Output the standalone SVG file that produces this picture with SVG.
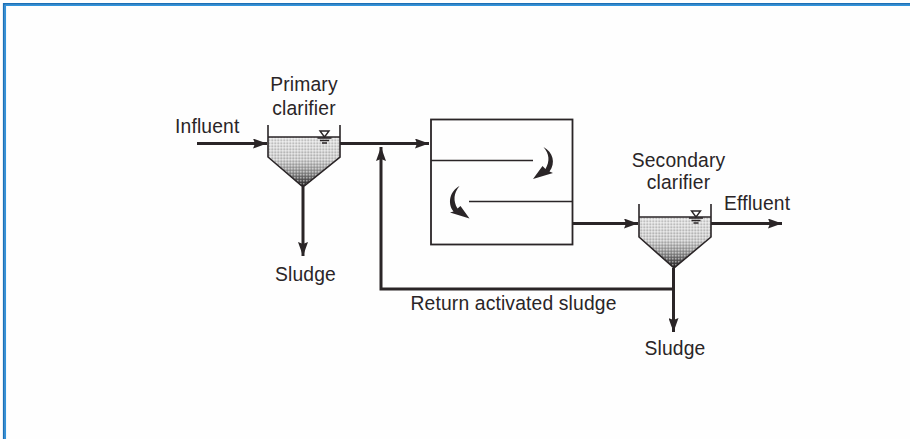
<svg xmlns="http://www.w3.org/2000/svg" width="910" height="439" viewBox="0 0 910 439">
<style>
.t{font-family:"Liberation Sans",Arial,sans-serif;font-size:19.300px;letter-spacing:.15px;fill:#2a2527}
.c{stroke:#2a2527;fill:none}
.flow{stroke-width:3}
.thin{stroke-width:1.7}
.tank{fill:url(#shade);stroke:none}
.dots{fill:url(#dither);stroke:none}
.wall{stroke:#2a2527;stroke-width:1.6;fill:none}
.head{fill:#2a2527;stroke:none}
</style>
<defs>
<linearGradient id="shade" x1="0" y1="0" x2="0" y2="1">
<stop offset="0" stop-color="#e2e2e2"/>
<stop offset="0.45" stop-color="#cfcfcf"/>
<stop offset="0.72" stop-color="#909090"/>
<stop offset="1" stop-color="#1f1d1f"/>
</linearGradient>
<pattern id="dither" width="3" height="3" patternUnits="userSpaceOnUse">
<rect x="0" y="0" width="1.500" height="1.500" fill="#fff" fill-opacity=".45"/>
<rect x="1.500" y="1.500" width="1.500" height="1.500" fill="#000" fill-opacity=".14"/>
</pattern>
<marker id="ah" markerUnits="userSpaceOnUse" markerWidth="16" markerHeight="10" refX="14" refY="5" orient="auto">
<path d="M0 0L14 5L0 10L2 5Z" fill="#2a2527"/>
</marker>
<symbol id="water" overflow="visible">
<path d="M-4.500 0H4.500L0 6Z" fill="none" stroke="#2a2527" stroke-width="1.400"/>
<path d="M-7 7H7M-4.500 9.500H4.500M-2.500 12H2.500" stroke="#2a2527" stroke-width="1.400" fill="none"/>
</symbol>
</defs>
<rect width="910" height="439" fill="#fefefe"/>
<g id="frame">
<path d="M5.300 439V5.300H910" fill="none" stroke="#2f94de" stroke-width="1.500"/>
<path d="M3.800 439V3.800H910" fill="none" stroke="#1a70b8" stroke-width="1.800"/>
</g>
<g id="primary-clarifier">
<path class="tank" d="M268 137H340V157L303 187L268 157Z"/>
<path class="dots" d="M268 137H340V157L303 187L268 157Z"/>
<path class="wall" d="M268 125V157L303 187L340 157V125M268 137H340"/>
<use href="#water" x="324.500" y="131"/>
<text class="t" x="304" y="91" text-anchor="middle">Primary</text>
<text class="t" x="304" y="115" text-anchor="middle">clarifier</text>
</g>
<g id="influent"><text class="t" x="175" y="132.500">Influent</text></g>
<g id="aeration-tank">
<rect x="431" y="119.500" width="141.500" height="125" fill="none" stroke="#2a2527" stroke-width="1.800"/>
<path class="c thin" d="M431 160.500H533M469 201.500H572"/>
<path d="M543.500 147C553 152 556 163 549.500 171.500L553 173L533 179L542.500 166L545.500 169C550 161 549.500 154 543.500 147Z" class="head"/>
<path d="M459.500 186C450 191 447 203 453.500 211.500L450 212.500L469.500 218.500L460.500 206L457.500 208.500C453 201 453.500 193 459.500 186Z" class="head"/>
</g>
<g id="secondary-clarifier">
<path class="tank" d="M639 217H711V237L674 268L639 237Z"/>
<path class="dots" d="M639 217H711V237L674 268L639 237Z"/>
<path class="wall" d="M639 204V237L674 268L711 237V204M639 217H711"/>
<use href="#water" x="696" y="211"/>
<text class="t" x="678.500" y="167" text-anchor="middle">Secondary</text>
<text class="t" x="678.500" y="189" text-anchor="middle">clarifier</text>
</g>
<g id="effluent"><text class="t" x="724" y="209.500">Effluent</text></g>
<g id="sludge-1"><text class="t" x="305.500" y="281" text-anchor="middle">Sludge</text></g>
<g id="sludge-2"><text class="t" x="675" y="355" text-anchor="middle">Sludge</text></g>
<g id="return-label"><text class="t" x="513.500" y="310" text-anchor="middle">Return activated sludge</text></g>
<g id="connectors">
<path class="c flow" d="M197 143.500H267" marker-end="url(#ah)"/>
<path class="c flow" d="M340 143.500H429" marker-end="url(#ah)"/>
<path class="c flow" d="M303 187V256" marker-end="url(#ah)"/>
<path class="c flow" d="M673 289H381V147" marker-end="url(#ah)"/>
<path class="c flow" d="M573 223.500H638" marker-end="url(#ah)"/>
<path class="c flow" d="M711 223.500H782" marker-end="url(#ah)"/>
<path class="c flow" d="M673.500 268V332" marker-end="url(#ah)"/>
</g>
</svg>
